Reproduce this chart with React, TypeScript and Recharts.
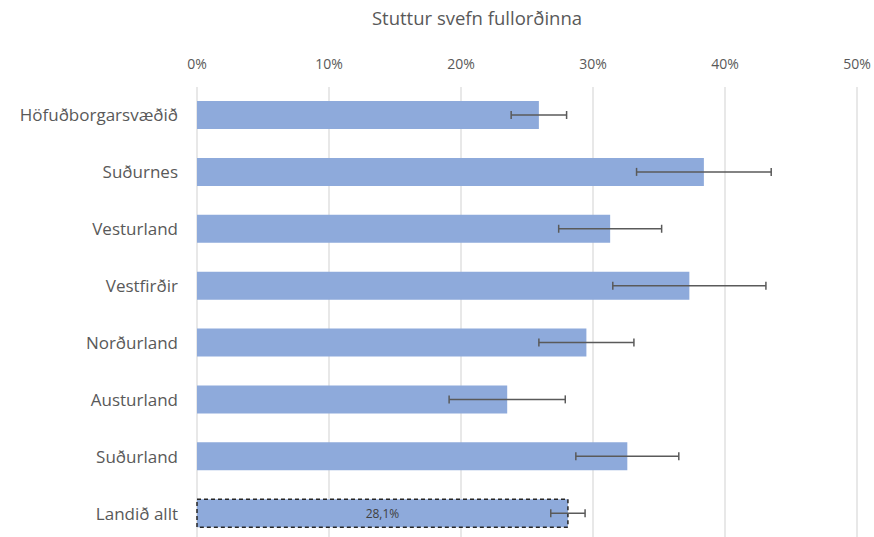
import React from 'react';
import { BarChart, Bar, XAxis, YAxis, CartesianGrid, ErrorBar, Cell } from 'recharts';

const regions = [
  'Höfuðborgarsvæðið',
  'Suðurnes',
  'Vesturland',
  'Vestfirðir',
  'Norðurland',
  'Austurland',
  'Suðurland',
  'Landið allt',
];
// percent of adults with short sleep
const shares = [25.9, 38.4, 31.3, 37.3, 29.5, 23.5, 32.6, 28.1];
const errors = [2.1, 5.1, 3.9, 5.8, 3.6, 4.4, 3.9, 1.3];
const xTicks = [0, 10, 20, 30, 40, 50];
const totalLabel = '28,1%';

const data = regions.map((name, i) => ({
  name,
  share: shares[i],
  err: errors[i],
}));

const font = '"Open Sans", "Liberation Sans", sans-serif';
const last = data.length - 1;

const TotalLabel = (props: any) => {
  const { x, y, width, height, index } = props;
  if (index !== last) return null;
  return (
    <text
      x={x + width / 2}
      y={y + height / 2}
      textAnchor="middle"
      dominantBaseline="central"
      fill="#404040"
      fontSize={12}
      fontFamily={font}
    >
      {totalLabel}
    </text>
  );
};

export default function App() {
  return (
    <div
      style={{
        position: 'relative',
        width: 874,
        height: 537,
        overflow: 'hidden',
        background: '#fff',
        fontFamily: font,
      }}
    >
      <style>{'html,body{margin:0;padding:0;overflow:hidden}'}</style>
      <div
        style={{
          position: 'absolute',
          top: 5,
          left: 277,
          width: 400,
          textAlign: 'center',
          fontSize: 18.5,
          color: '#595959',
        }}
      >
        Stuttur svefn fullorðinna
      </div>
      <BarChart
        width={874}
        height={545}
        data={data}
        layout="vertical"
        barSize={28}
        margin={{ top: 0, right: 17, bottom: 3, left: 0 }}
        style={{ overflow: 'visible' }}
      >
        <CartesianGrid horizontal={false} stroke="#d9d9d9" strokeWidth={1.2} />
        <XAxis
          type="number"
          orientation="top"
          domain={[0, 50]}
          ticks={xTicks}
          height={87}
          axisLine={false}
          tickLine={false}
          tickMargin={12}
          tickFormatter={(v: number) => `${v}%`}
          tick={{ fill: '#595959', fontSize: 14, fontFamily: font }}
        />
        <YAxis
          type="category"
          dataKey="name"
          width={197}
          axisLine={false}
          tickLine={false}
          tickMargin={13}
          tick={{ fill: '#595959', fontSize: 17, fontFamily: font }}
        />
        <Bar dataKey="share" fill="#8eaadb" isAnimationActive={false} label={<TotalLabel />}>
          {data.map((d, i) => (
            <Cell
              key={`c-${i}`}
              fill="#8eaadb"
              stroke={i === last ? '#262626' : undefined}
              strokeDasharray={i === last ? '4 3' : undefined}
              strokeWidth={i === last ? 1.5 : undefined}
            />
          ))}
          <ErrorBar dataKey="err" direction="x" width={4} strokeWidth={1.5} stroke="#5a5a5a" />
        </Bar>
      </BarChart>
    </div>
  );
}
